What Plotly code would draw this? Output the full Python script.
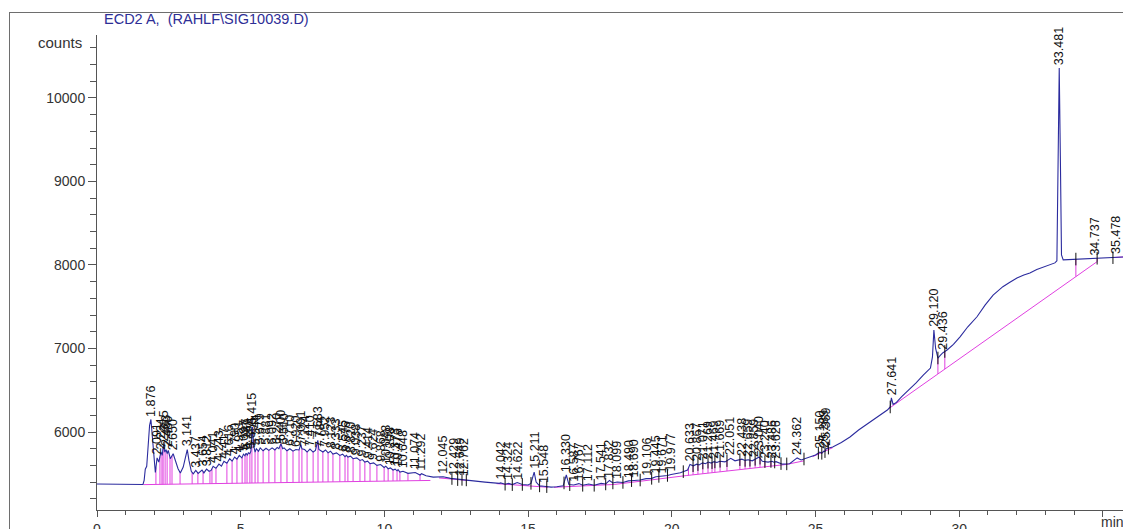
import numpy as np
import plotly.graph_objects as go

# ---- signal (retention time in min, detector counts) ----
sig_time = [0.00, 0.40, 0.80, 1.20, 1.50, 1.60, 1.64, 1.68, 1.73, 1.78, 1.83, 1.876, 1.92, 1.97,
            2.03, 2.091, 2.15, 2.224, 2.27, 2.315, 2.36, 2.403, 2.44, 2.480, 2.55, 2.650, 2.75,
            2.82, 2.90, 3.00, 3.08, 3.141, 3.20, 3.28, 3.35, 3.437, 3.52, 3.60, 3.654, 3.72,
            3.812, 3.90, 3.97, 4.041, 4.14, 4.243, 4.33, 4.417, 4.52, 4.616, 4.70, 4.790, 4.87,
            4.951, 5.04, 5.097, 5.15, 5.187, 5.23, 5.268, 5.32, 5.354, 5.39, 5.415, 5.45, 5.50,
            5.544, 5.62, 5.679, 5.78, 5.881, 5.98, 6.092, 6.19, 6.270, 6.33, 6.400, 6.46, 6.510,
            6.61, 6.710, 6.82, 6.920, 7.03, 7.091, 7.13, 7.224, 7.31, 7.410, 7.52, 7.60, 7.683,
            7.72, 7.784, 7.86, 7.952, 8.04, 8.123, 8.21, 8.333, 8.45, 8.545, 8.63, 8.676, 8.73,
            8.820, 8.91, 9.038, 9.15, 9.237, 9.32, 9.414, 9.50, 9.624, 9.74, 9.868, 9.99, 10.048,
            10.13, 10.208, 10.30, 10.373, 10.44, 10.476, 10.54, 10.648, 10.82, 11.074, 11.24,
            11.292, 11.45, 11.70, 12.045, 12.30, 12.429, 12.55, 12.649, 12.762, 13.00, 13.50,
            14.00, 14.042, 14.20, 14.324, 14.45, 14.622, 14.80, 15.00, 15.10, 15.211, 15.28,
            15.40, 15.548, 15.80, 16.00, 16.22, 16.330, 16.42, 16.587, 16.767, 16.90, 17.112,
            17.30, 17.541, 17.70, 17.832, 17.95, 18.099, 18.30, 18.490, 18.690, 18.90, 19.106,
            19.30, 19.445, 19.671, 19.85, 19.977, 20.30, 20.55, 20.633, 20.75, 20.867, 20.95,
            21.071, 21.17, 21.269, 21.37, 21.469, 21.57, 21.669, 21.85, 22.051, 22.20, 22.438,
            22.55, 22.659, 22.80, 22.859, 23.040, 23.15, 23.240, 23.35, 23.486, 23.55, 23.626,
            23.85, 24.10, 24.362, 24.50, 24.80, 25.00, 25.150, 25.22, 25.289, 25.33, 25.369,
            25.60, 25.90, 26.20, 26.50, 26.80, 27.00, 27.30, 27.50, 27.60, 27.641, 27.70, 27.80,
            28.00, 28.25, 28.50, 28.75, 29.00, 29.07, 29.120, 29.18, 29.26, 29.35, 29.436,
            29.58, 29.80, 30.03, 30.30, 30.62, 30.90, 31.18, 31.52, 31.75, 32.01, 32.25, 32.46,
            32.70, 32.92, 33.15, 33.33, 33.40, 33.44, 33.481, 33.52, 33.56, 33.62, 33.90, 34.10,
            34.40, 34.737, 35.00, 35.25, 35.478, 35.70]
sig_counts = [5378, 5376, 5374, 5372, 5368, 5372, 5420, 5555, 5590, 5800, 6080, 6150, 5980, 5700,
              5515, 5690, 5640, 5760, 5720, 5850, 5760, 5790, 5740, 5780, 5680, 5740, 5640,
              5560, 5510, 5580, 5700, 5790, 5660, 5530, 5500, 5540, 5505, 5530, 5545, 5510,
              5555, 5530, 5540, 5590, 5565, 5615, 5590, 5650, 5625, 5680, 5650, 5700, 5675,
              5720, 5690, 5735, 5715, 5745, 5725, 5750, 5740, 5770, 5900, 6060, 5840, 5760,
              5800, 5770, 5810, 5775, 5805, 5780, 5810, 5785, 5815, 5800, 5860, 5800, 5810,
              5775, 5800, 5770, 5790, 5785, 5850, 5800, 5790, 5760, 5795, 5760, 5780, 5900,
              5790, 5775, 5760, 5785, 5750, 5770, 5735, 5750, 5720, 5735, 5705, 5720, 5700,
              5710, 5680, 5690, 5660, 5670, 5640, 5650, 5620, 5630, 5600, 5610, 5575, 5590,
              5560, 5570, 5545, 5555, 5535, 5550, 5520, 5530, 5505, 5515, 5485,
              5500, 5475, 5460, 5465, 5445, 5440, 5430, 5435, 5430, 5420, 5400,
              5385, 5390, 5375, 5385, 5370, 5395, 5372, 5365, 5385, 5520, 5400,
              5355, 5350, 5340, 5345, 5355, 5485, 5370, 5365, 5382, 5362, 5378,
              5362, 5385, 5378, 5420, 5390, 5402, 5396, 5415, 5420, 5425, 5442,
              5445, 5465, 5472, 5480, 5492, 5512, 5545, 5612, 5595, 5615, 5605,
              5630, 5620, 5640, 5628, 5645, 5635, 5650, 5642, 5685, 5655, 5675,
              5660, 5668, 5655, 5665, 5700, 5650, 5645, 5640, 5650, 5638, 5645,
              5615, 5620, 5690, 5665, 5700, 5725, 5760, 5745, 5770, 5765, 5800,
              5820, 5875, 5940, 6024, 6095, 6144, 6220, 6263, 6300, 6410, 6330, 6350,
              6423, 6500, 6587, 6680, 6766, 6900, 7222, 7000, 6886, 6920, 6950,
              6982, 7050, 7140, 7260, 7380, 7520, 7640, 7740, 7790, 7845, 7880, 7905,
              7945, 7975, 8005, 8025, 8050, 9300, 10360, 9300, 8120, 8062, 8066, 8072,
              8075, 8080, 8082, 8084, 8092, 8096]

# ---- integration baseline segments (None separates segments) ----
base_time = [1.62, 11.6, None, 11.9, 12.95, None, 13.9, 15.7, None,
             15.9, 18.0, 20.5, 24.0, 24.6, None, 24.9, 25.6, None, 27.55, 34.8, None, 35.35, 35.7]
base_counts = [5370, 5420, None, 5450, 5418, None, 5382, 5338, None,
               5338, 5372, 5478, 5612, 5655, None, 5705, 5812, None, 6280, 8040, None, 8089, 8096]

# ---- drop-line times (peak boundaries) ----
drop_times = [2.05, 2.19, 2.26, 2.30, 2.37, 2.44, 2.54, 2.61, 2.89, 3.31, 3.51, 3.69, 3.93, 4.00,
              4.14, 4.52, 4.70, 4.87, 5.05, 5.15, 5.22, 5.32, 5.39, 5.50, 5.60, 5.78, 5.98, 6.19,
              6.40, 6.61, 6.82, 7.03, 7.13, 7.31, 7.52, 7.69, 7.86, 8.04, 8.21, 8.45, 8.63, 8.73,
              8.91, 9.15, 9.32, 9.50, 9.74, 9.99, 10.13, 10.30, 10.44, 10.54, 10.82, 11.24,
              20.58, 20.74, 20.91, 21.08, 21.26, 21.40, 21.50, 21.68, 21.92, 22.37, 22.55, 22.72,
              22.90, 23.07, 23.24, 23.45, 23.58, 25.10, 25.22, 25.33, 25.45, 27.60, 29.26, 29.50,
              34.06, 34.80]

# ---- small black baseline-event ticks ----
event_times = [12.35, 12.55, 12.70, 12.85, 14.20, 14.45, 14.80, 15.10, 15.40, 15.65, 16.25, 16.45,
               16.90, 17.30, 17.70, 17.95, 18.30, 18.60, 18.90, 19.30, 19.55, 19.85, 20.40, 20.74,
               20.91, 21.08, 21.26, 21.40, 21.50, 21.68, 21.92, 22.37, 22.55, 22.72, 22.90, 23.07,
               23.24, 23.45, 23.58, 23.80, 24.00, 24.60, 25.10, 25.22, 25.33, 25.45, 27.60, 29.26,
               29.50, 34.06, 34.80, 35.35]

# ---- peak retention-time labels ----
peak_times = [1.876, 2.091, 2.224, 2.315, 2.403, 2.480, 2.650, 3.141, 3.437, 3.654, 3.812, 4.041,
              4.243, 4.417, 4.616, 4.790, 4.951, 5.097, 5.187, 5.268, 5.354, 5.415, 5.544, 5.679,
              5.881, 6.092, 6.270, 6.400, 6.510, 6.710, 6.920, 7.091, 7.224, 7.410, 7.683, 7.784,
              7.952, 8.123, 8.333, 8.545, 8.676, 8.820, 9.038, 9.237, 9.414, 9.624, 9.868, 10.048,
              10.208, 10.373, 10.476, 10.648, 11.074, 11.292, 12.045, 12.429, 12.649, 12.762,
              14.042, 14.324, 14.622, 15.211, 15.548, 16.330, 16.587, 16.767, 17.112, 17.541,
              17.832, 18.099, 18.490, 18.690, 19.106, 19.445, 19.671, 19.977, 20.633, 20.867,
              21.071, 21.269, 21.469, 21.669, 22.051, 22.438, 22.659, 22.859, 23.040, 23.240,
              23.486, 23.626, 24.362, 25.150, 25.289, 25.369, 27.641, 29.120, 29.436, 33.481,
              34.737, 35.478]

x_major = [0, 5, 10, 15, 20, 25, 30, 35]
x_major_text = ["0", "5", "10", "15", "20", "25", "30", ""]
y_major = [6000, 7000, 8000, 9000, 10000]
y_major_text = ["6000", "7000", "8000", "9000", "10000"]

BLUE = "#2b2b9e"
MAGENTA = "#e040e0"
FRAME = "#6e6e6e"
FONT = "Arial, Liberation Sans, sans-serif"

# page geometry (pixels)
W, H = 1123, 529
ML, MT, MB = 4, 7, 0            # paper area
PW, PH = W - ML, H - MT - MB
PLOT_L, PLOT_T, PLOT_B = 97, 35, 510
FRAME_L, FRAME_T = 9.5, 12.5


def px_x(px):
    return (px - ML) / PW


def px_y(py):
    return (H - MB - py) / PH


st = np.array(sig_time, dtype=float)
sc = np.array(sig_counts, dtype=float)
bt_clean = np.array([t for t in base_time if t is not None], dtype=float)
bc_clean = np.array([c for c in base_counts if c is not None], dtype=float)


def sig_at(t):
    return float(np.interp(t, st, sc))


def base_at(t):
    return float(np.interp(t, bt_clean, bc_clean))


fig = go.Figure()

# outer frame on a hidden full-page axis pair measured in pixels
fig.add_trace(go.Scatter(x=[W, FRAME_L, FRAME_L], y=[FRAME_T, FRAME_T, H],
                         xaxis="x2", yaxis="y2", mode="lines",
                         line=dict(color=FRAME, width=1), hoverinfo="skip"))

# baseline
fig.add_trace(go.Scatter(x=base_time, y=base_counts, mode="lines",
                         line=dict(color=MAGENTA, width=1), hoverinfo="skip"))
# drop lines
dx, dy = [], []
for t in drop_times:
    dx += [t, t, None]
    dy += [base_at(t), sig_at(t), None]
fig.add_trace(go.Scatter(x=dx, y=dy, mode="lines",
                         line=dict(color=MAGENTA, width=1), hoverinfo="skip"))
# signal
fig.add_trace(go.Scatter(x=sig_time, y=sig_counts, mode="lines",
                         line=dict(color=BLUE, width=1.1), hoverinfo="skip"))
# event ticks
fig.add_trace(go.Scatter(x=event_times, y=[sig_at(t) for t in event_times], mode="markers",
                         marker=dict(symbol="line-ns-open", size=9, color="#111111",
                                     line=dict(color="#111111", width=1)),
                         hoverinfo="skip"))

annotations = []
for t in peak_times:
    annotations.append(dict(x=t, y=sig_at(t), xref="x", yref="y", text=f"{t:.3f}",
                            textangle=-90, showarrow=False, xanchor="center", yanchor="bottom",
                            yshift=1, font=dict(family=FONT, size=12.5, color="#111111")))

# title, axis captions
annotations.append(dict(x=px_x(102), y=px_y(19), xref="paper", yref="paper",
                        text="ECD2 A,  (RAHLF\\SIG10039.D)", showarrow=False,
                        xanchor="left", yanchor="middle",
                        font=dict(family=FONT, size=14.5, color="#2e2e96")))
annotations.append(dict(x=px_x(84), y=10660, xref="paper", yref="y", text="counts",
                        showarrow=False, xanchor="right", yanchor="middle",
                        font=dict(family=FONT, size=15, color="#333333")))
annotations.append(dict(x=35, y=px_y(522), xref="x", yref="paper", text="min",
                        showarrow=False, xanchor="left", yanchor="middle", xshift=-4,
                        font=dict(family=FONT, size=14, color="#333333")))

# outer frame as a bordered empty box as well (top-left corner at the frame corner)
annotations.append(dict(x=px_x(9), y=px_y(12), xref="paper", yref="paper", text=" ",
                        showarrow=False, xanchor="left", yanchor="top",
                        width=1300, height=700, borderpad=0, borderwidth=1,
                        bordercolor=FRAME, bgcolor="rgba(0,0,0,0)"))

fig.update_layout(
    width=W, height=H,
    margin=dict(l=ML, r=0, t=MT, b=MB),
    plot_bgcolor="rgba(0,0,0,0)", paper_bgcolor="white",
    showlegend=False,
    annotations=annotations,
    xaxis2=dict(domain=[0, 1], range=[ML, W], visible=False, fixedrange=True, anchor="y2"),
    yaxis2=dict(domain=[0, 1], range=[H - MB, MT], visible=False, fixedrange=True, anchor="x2"),
    xaxis=dict(domain=[px_x(PLOT_L), 1.0], range=[0, 35.7], anchor="y",
               showline=True, linecolor="#555555", linewidth=1,
               showgrid=False, zeroline=False, ticks="outside", ticklen=6, tickcolor="#555555",
               tickvals=x_major, ticktext=x_major_text, automargin=False,
               tickfont=dict(family=FONT, size=14, color="#333333"),
               minor=dict(dtick=1, tick0=0, ticks="outside", ticklen=4, tickcolor="#555555",
                          showgrid=False)),
    yaxis=dict(domain=[px_y(PLOT_B), px_y(PLOT_T)], range=[5066, 10754], anchor="x",
               showline=True, linecolor="#555555", linewidth=1,
               showgrid=False, zeroline=False, ticks="outside", ticklen=8, tickcolor="#555555",
               tickvals=y_major, ticktext=y_major_text, automargin=False,
               tickfont=dict(family=FONT, size=14, color="#333333"),
               minor=dict(dtick=200, tick0=0, ticks="outside", ticklen=6, tickcolor="#555555",
                          showgrid=False)),
)

fig.write_html(
    "out.html",
    config={"displayModeBar": False},
    post_script="document.body.style.margin='0';document.body.style.padding='0';"
                "document.documentElement.style.overflow='hidden';"
                "document.body.style.overflow='hidden';",
)
